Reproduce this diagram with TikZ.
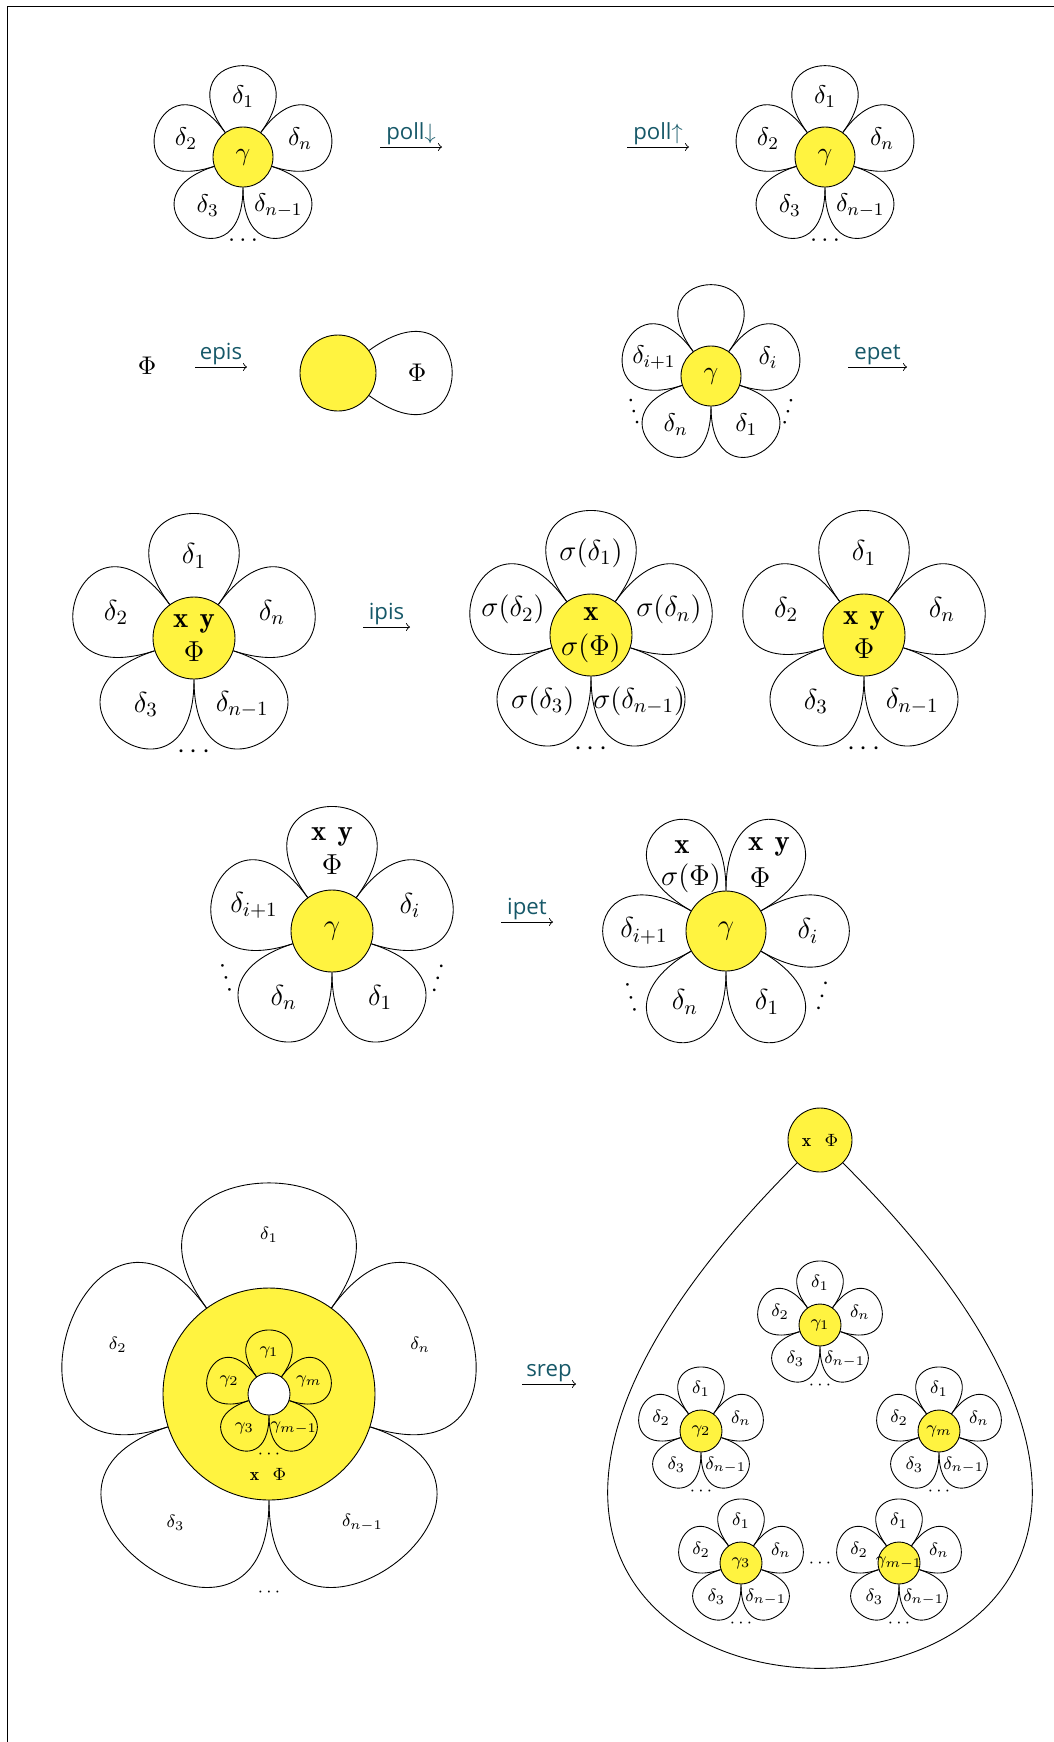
\RequirePackage{fix-cm}
\documentclass[tikz,border=0pt]{standalone}
\usepackage{fontspec}
\setsansfont{Open Sans}
\definecolor{daisy}{RGB}{255,243,64}
\definecolor{opcolor}{RGB}{22,88,104}

% petals between consecutive border points of a hub
\newcommand{\petals}[4]{%
  \foreach \k in {1,...,#2}{%
    \pgfmathtruncatemacro{\pfrom}{mod(#3+360/#2*(\k-1),360)}%
    \pgfmathtruncatemacro{\pto}{mod(\pfrom+360/#2,360)}%
    \draw (#1.\pfrom) .. controls +(\pfrom:#4) and +(\pto:#4) .. (#1.\pto);
  }}
% the usual delta labels and the dots below them
\newcommand{\deltas}[3]{%
  \foreach \ang/\lab [count=\i] in {90/1,162/2,18/n,234/3,306/n-1}
    \node (#1-d\i) at ([shift={(\ang:#2)}]#1.center) {$\delta_{\lab}$};
  \node (#1-dots) at ([shift={(270:#3)}]#1.center) {$\cdots$};}
\newcommand{\xy}{\mathbf{x}\hspace{5pt}\mathbf{y}}

\begin{document}
\begin{tikzpicture}[x=0.45pt, y=0.45pt,
    font=\fontsize{11.5}{13.5}\selectfont,
    hub/.style={circle, draw, fill=daisy, inner sep=0pt, minimum size=#1},
    oparrow/.style={->},
    opname/.style={font=\sffamily\fontsize{10}{12}\selectfont, text=opcolor,
        above, inner sep=1pt},
    tilted/.style={rotate=#1, inner sep=0pt},
    ]
    \useasboundingbox (0,0) rectangle (1054,-1742);
    \draw (7,-1760) -- (7,-6) -- (1070,-6);

    % poll
    \node[hub=27pt] (A) at (243,-157) {$\gamma$};
    \petals{A}{5}{54}{110}
    \deltas{A}{60}{84}
    \coordinate (pollA-s) at (380,-147);
    \coordinate (pollA-e) at (442,-147);
    \draw[oparrow] (pollA-s) -- (pollA-e) node[opname, midway] (pollA) {poll$\downarrow$};
    \coordinate (pollB-s) at (627,-147);
    \coordinate (pollB-e) at (689,-147);
    \draw[oparrow] (pollB-s) -- (pollB-e) node[opname, midway] (pollB) {poll$\uparrow$};
    \node[hub=27pt] (B) at (825,-157) {$\gamma$};
    \petals{B}{5}{54}{110}
    \deltas{B}{60}{84}

    % epis
    \node (phi) at (147,-366) {$\Phi$};
    \coordinate (epis-s) at (195,-367);
    \coordinate (epis-e) at (247,-367);
    \draw[oparrow] (epis-s) -- (epis-e) node[opname, midway] (epis) {epis};
    \node[hub=34.2pt] (EP) at (338,-373) {};
    \draw (EP.36) .. controls +(36:137) and +(324:137) .. (EP.324);
    \node (EP-phi) at ([shift={(0:79)}]EP.center) {$\Phi$};

    % epet
    \node[hub=27pt] (C) at (711,-376) {$\gamma$};
    \petals{C}{5}{54}{110}
    \foreach \ang/\lab [count=\i] in {18/i,162/i+1,234/n,306/1}
        \node (C-d\i) at ([shift={(\ang:60)}]C.center) {$\delta_{\lab}$};
    \node[tilted=-74] (C-l) at ([shift={(205:85)}]C.center) {$\ldots$};
    \node[tilted=74] (C-r) at ([shift={(335:85)}]C.center) {$\ldots$};
    \coordinate (epet-s) at (848,-367);
    \coordinate (epet-e) at (907,-367);
    \draw[oparrow] (epet-s) -- (epet-e) node[opname, midway] (epet) {epet};

    % ipis
    \begin{scope}[font=\fontsize{13}{15.5}\selectfont]
    \node[hub=36.9pt] (D) at (194,-638) {};
    \petals{D}{5}{54}{150}
    \deltas{D}{82}{114}
    \node[align=center] (D-t) at (D.center) {$\xy$\\$\Phi$};
    \coordinate (ipis-s) at (363,-627);
    \coordinate (ipis-e) at (410,-627);
    \draw[oparrow] (ipis-s) -- (ipis-e) node[opname, midway] (ipis) {ipis};
    \node[hub=36.9pt] (E) at (591,-635) {};
    \petals{E}{5}{54}{150}
    \foreach \ang/\lab [count=\i] in {90/1,162/2,18/n,234/3,306/n-1}
        \node (E-d\i) at ([shift={(\ang:82)}]E.center) {$\sigma(\delta_{\lab})$};
    \node (E-dots) at ([shift={(270:114)}]E.center) {$\cdots$};
    \node[align=center] (E-t) at (E.center) {$\mathbf{x}$\\$\sigma(\Phi)$};
    \node[hub=36.9pt] (F) at (864,-635) {};
    \petals{F}{5}{54}{150}
    \deltas{F}{82}{114}
    \node[align=center] (F-t) at (F.center) {$\xy$\\$\Phi$};

    % ipet
    \node[hub=36.9pt] (G) at (332,-931) {$\gamma$};
    \petals{G}{5}{54}{150}
    \node[align=center] (G-top) at ([shift={(90:80)}]G.center) {$\xy$\\$\Phi$};
    \foreach \ang/\lab [count=\i] in {18/i,162/i+1,234/n,306/1}
        \node (G-d\i) at ([shift={(\ang:82)}]G.center) {$\delta_{\lab}$};
    \node[tilted=-74] (G-l) at ([shift={(204:116)}]G.center) {$\ldots$};
    \node[tilted=74] (G-r) at ([shift={(336:116)}]G.center) {$\ldots$};
    \coordinate (ipet-s) at (501,-922);
    \coordinate (ipet-e) at (553,-922);
    \draw[oparrow] (ipet-s) -- (ipet-e) node[opname, midway] (ipet) {ipet};
    \node[hub=36pt] (H) at (726,-931) {$\gamma$};
    \petals{H}{6}{30}{136}
    \foreach \ang/\lab [count=\i] in {0/i,180/i+1,240/n,300/1}
        \node (H-d\i) at ([shift={(\ang:82)}]H.center) {$\delta_{\lab}$};
    \node (H-x) at (682,-847) {$\mathbf{x}$};
    \node (H-sphi) at (691,-878) {$\sigma(\Phi)$};
    \node (H-xy) at (769,-847) {$\xy$};
    \node (H-phi) at (760,-878) {$\Phi$};
    \node[tilted=-74] (H-l) at ([shift={(215:116)}]H.center) {$\ldots$};
    \node[tilted=74] (H-r) at ([shift={(326:116)}]H.center) {$\ldots$};
    \end{scope}

    % srep
    \begin{scope}[font=\footnotesize]
    \node[hub=95.4pt] (I) at (269,-1394) {};
    \petals{I}{5}{54}{206}
    \deltas{I}{159}{198}
    \node[hub=18.9pt, fill=white] (Iin) at (I.center) {};
    \petals{Iin}{5}{54}{77}
    \foreach \ang/\lab [count=\i] in {90/1,162/2,18/m,234/3,306/m-1}
        \node (Iin-g\i) at ([shift={(\ang:42)}]Iin.center) {$\gamma_{\lab}$};
    \node (Iin-dots) at ([shift={(270:60)}]Iin.center) {$\cdots$};
    \node (I-t) at (268,-1474) {$\mathbf{x}$\hspace{6pt}$\Phi$};
    \coordinate (srep-s) at (522,-1384);
    \coordinate (srep-e) at (576,-1384);
    \draw[oparrow] (srep-s) -- (srep-e) node[opname, midway] (srep) {srep};

    \node[hub=28.8pt] (T) at (820,-1140) {$\mathbf{x}$\hspace{6pt}$\Phi$};
    \draw (T.225) .. controls +(225:953) and +(315:953) .. (T.315);
    \node[hub=18.9pt] (S1) at (820,-1325) {$\gamma_1$};
    \petals{S1}{5}{54}{77}
    \deltas{S1}{42}{60}
    \node[hub=18.9pt] (S2) at (701,-1431) {$\gamma_2$};
    \petals{S2}{5}{54}{77}
    \deltas{S2}{42}{60}
    \node[hub=18.9pt] (Sm) at (939,-1431) {$\gamma_m$};
    \petals{Sm}{5}{54}{77}
    \deltas{Sm}{42}{60}
    \node[hub=18.9pt] (S3) at (741,-1563) {$\gamma_3$};
    \petals{S3}{5}{54}{77}
    \deltas{S3}{42}{60}
    \node[hub=18.9pt] (Sm1) at (899,-1563) {};
    \petals{Sm1}{5}{54}{77}
    \deltas{Sm1}{42}{60}
    \node (Sm1-t) at (Sm1.center) {$\gamma_{m-1}$};
    \node (S-dots) at (820,-1563) {$\cdots$};
    \end{scope}
\end{tikzpicture}
\end{document}
